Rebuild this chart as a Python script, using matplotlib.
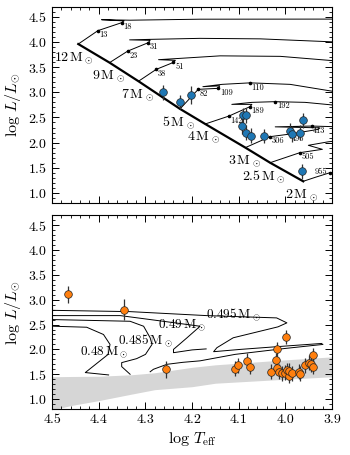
import numpy as np
import matplotlib
matplotlib.use("Agg")
import matplotlib.pyplot as plt

plt.rcParams["font.family"] = "serif"
plt.rcParams["font.serif"] = ["cmr10"]
plt.rcParams["mathtext.fontset"] = "cm"
plt.rcParams["axes.formatter.use_mathtext"] = True

# ---- top panel: main sequence tracks -------------------------------------
zams_mass = ["12", "9", "7", "5", "4", "3", "2.5", "2"]
zams_teff = [4.444, 4.377, 4.315, 4.226, 4.172, 4.086, 4.033, 3.962]
zams_lum = [3.96, 3.59, 3.22, 2.67, 2.37, 1.90, 1.60, 1.23]

track_teff = [
    [4.444, 4.402, 4.351, 4.346, 4.394, 4.333, 4.183, 3.898],
    [4.377, 4.338, 4.294, 4.290, 4.334, 4.290, 4.183, 4.054, 3.898],
    [4.315, 4.277, 4.240, 4.236, 4.272, 4.226, 4.140, 4.011, 3.898],
    [4.226, 4.187, 4.144, 4.141, 4.177, 4.136, 4.076, 3.990, 3.898],
    [4.172, 4.121, 4.076, 4.072, 4.115, 4.072, 4.022, 3.958, 3.898],
    [4.086, 4.033, 3.990, 3.930, 3.926, 4.022, 3.944, 3.898],
    [4.033, 3.969, 3.921, 3.951, 3.908, 3.898],
    [3.962, 3.936, 3.904, 3.898],
]
track_lum = [
    [3.96, 4.226, 4.385, 4.420, 4.444, 4.434, 4.454, 4.456],
    [3.59, 3.820, 3.987, 4.033, 4.043, 4.053, 4.073, 4.063, 4.003],
    [3.22, 3.456, 3.595, 3.635, 3.649, 3.675, 3.725, 3.715, 3.629],
    [2.67, 3.059, 3.079, 3.128, 3.112, 3.158, 3.188, 3.158, 3.019],
    [2.37, 2.528, 2.715, 2.760, 2.760, 2.800, 2.814, 2.800, 2.747],
    [1.90, 2.118, 2.170, 2.263, 2.293, 2.313, 2.329, 2.317],
    [1.60, 1.800, 1.866, 1.946, 2.016, 2.026],
    [1.23, 1.310, 1.403, 1.409],
]

age_label = ["13", "18", "23", "31", "38", "51", "82", "109", "110", "142",
             "189", "192", "306", "496", "413", "505", "955"]
age_teff = [4.402, 4.351, 4.338, 4.294, 4.277, 4.240, 4.187, 4.144, 4.076,
            4.121, 4.076, 4.022, 4.033, 3.990, 3.944, 3.969, 3.904]
age_lum = [4.226, 4.385, 3.820, 3.987, 3.456, 3.595, 3.059, 3.079, 3.188,
           2.528, 2.715, 2.814, 2.118, 2.170, 2.329, 1.800, 1.403]

ms_teff = [4.263, 4.226, 4.202, 4.091, 4.084, 4.094, 4.084, 4.074, 4.045,
           3.991, 3.987, 3.969, 3.962, 3.965]
ms_lum = [3.00, 2.81, 2.95, 2.54, 2.54, 2.33, 2.20, 2.14, 2.14,
          2.24, 2.17, 2.20, 2.44, 1.43]
ms_err = [0.15, 0.14, 0.18, 0.15, 0.15, 0.15, 0.15, 0.15, 0.14,
          0.15, 0.15, 0.15, 0.15, 0.15]

# ---- bottom panel: horizontal branch tracks ------------------------------
hb_mass = ["0.495", "0.49", "0.485", "0.48"]
hb_teff = [
    [4.498, 4.333, 4.169, 4.019, 3.997, 4.016, 4.112, 4.147, 4.154, 4.097, 4.011, 3.922],
    [4.497, 4.354, 4.262, 4.183, 4.211, 4.240, 4.240, 4.20, 4.17],
    [4.498, 4.333, 4.304, 4.290, 4.286, 4.300, 4.319, 4.351, 4.351, 4.333],
    [4.497, 4.426, 4.390, 4.376, 4.380, 4.429, 4.379],
]
hb_lum = [
    [2.786, 2.760, 2.680, 2.634, 2.534, 2.454, 2.234, 2.034, 1.954, 2.00, 2.06, 2.12],
    [2.680, 2.680, 2.566, 2.466, 2.234, 2.000, 1.934, 1.99, 2.01],
    [2.600, 2.566, 2.466, 2.234, 2.100, 1.900, 1.814, 1.734, 1.654, 1.500],
    [2.466, 2.446, 2.300, 2.100, 1.900, 1.534, 1.486],
]
extra_teff = [4.290, 4.283, 4.254, 4.220, 4.183, 4.108, 4.000, 3.920]
extra_lum = [1.55, 1.60, 1.70, 1.74, 1.77, 1.90, 2.02, 2.10]
hb_label_teff = [4.112, 4.222, 4.300, 4.388]
hb_label_lum = [2.70, 2.48, 2.17, 1.94]

band_teff = [4.5, 4.46, 4.40, 4.33, 4.28, 4.20, 4.15, 4.00, 3.90]
band_low = [0.78, 0.87, 0.97, 1.10, 1.19, 1.25, 1.32, 1.40, 1.45]
band_high = [1.45, 1.455, 1.46, 1.49, 1.53, 1.64, 1.69, 1.79, 1.85]

hb_teff_obs = [4.467, 4.347, 4.256, 4.108, 4.102, 4.083, 4.077, 4.031, 4.020,
               4.019, 4.019, 4.014, 3.999, 4.007, 4.001, 3.997, 3.993, 3.992,
               3.986, 3.970, 3.969, 3.959, 3.950, 3.945, 3.941, 3.940]
hb_lum_obs = [3.11, 2.80, 1.60, 1.61, 1.68, 1.77, 1.65, 1.55, 1.78,
              2.00, 1.63, 1.55, 2.25, 1.52, 1.53, 1.58, 1.47, 1.57,
              1.52, 1.55, 1.51, 1.68, 1.73, 1.70, 1.88, 1.65]
hb_err_obs = [0.17, 0.21, 0.17, 0.15, 0.15, 0.15, 0.15, 0.15, 0.15,
              0.15, 0.15, 0.15, 0.15, 0.15, 0.15, 0.15, 0.15, 0.15,
              0.15, 0.15, 0.15, 0.15, 0.15, 0.15, 0.15, 0.15]

fig = plt.figure(figsize=(3.5, 4.55), dpi=100)
ax1 = fig.add_axes([0.149, 0.554, 0.800, 0.431])
ax2 = fig.add_axes([0.149, 0.101, 0.800, 0.426])

# top panel
for tx, ty in zip(track_teff, track_lum):
    ax1.plot(tx, ty, color="k", lw=0.7, zorder=2)
ax1.plot(zams_teff, zams_lum, color="k", lw=1.6, zorder=3)
ax1.plot(age_teff, age_lum, "o", color="k", ms=1.6, zorder=3)
for lab, tx, ty in zip(age_label, age_teff, age_lum):
    if lab == "955":
        ax1.annotate(lab, (tx, ty), xytext=(-2, 0.5), textcoords="offset points",
                     ha="right", va="center", fontsize=6)
    else:
        ax1.annotate(lab, (tx, ty), xytext=(1.2, -0.3), textcoords="offset points",
                     ha="left", va="top", fontsize=6)
for m, tx, ty in zip(zams_mass, zams_teff, zams_lum):
    ax1.annotate(m + r"$\,$M$_\odot$", (tx, ty), xytext=(11, -4),
                 textcoords="offset points", ha="right", va="top", fontsize=10)
ax1.errorbar(ms_teff, ms_lum, yerr=ms_err, fmt="o", color="#1f77b4",
             ecolor="#333333", elinewidth=0.9, capsize=0, ms=5.5,
             mec="#222222", mew=0.5, zorder=5)

# bottom panel
ax2.fill_between(band_teff, band_low, band_high, color="#d6d6d6", lw=0, zorder=1)
for tx, ty in zip(hb_teff, hb_lum):
    ax2.plot(tx, ty, color="k", lw=0.7, zorder=2)
ax2.plot(extra_teff, extra_lum, color="k", lw=0.7, zorder=2)
for m, tx, ty in zip(hb_mass, hb_label_teff, hb_label_lum):
    ax2.text(tx, ty, m + r"$\,$M$_\odot$", ha="center", va="center",
             fontsize=9.5, zorder=3)
ax2.errorbar(hb_teff_obs, hb_lum_obs, yerr=hb_err_obs, fmt="o", color="#ff7f0e",
             ecolor="#333333", elinewidth=0.9, capsize=0, ms=5.5,
             mec="#222222", mew=0.5, zorder=5)

for ax in (ax1, ax2):
    ax.set_xlim(4.5, 3.9)
    ax.set_ylim(0.8, 4.7)
    ax.set_xticks(np.arange(3.9, 4.51, 0.1))
    ax.set_xticks(np.arange(3.9, 4.51, 0.02), minor=True)
    ax.set_yticks([1.0, 1.5, 2.0, 2.5, 3.0, 3.5, 4.0, 4.5])
    ax.set_yticks(np.arange(0.8, 4.71, 0.1), minor=True)
    ax.tick_params(which="both", direction="in", top=True, right=True, labelsize=10)
    ax.tick_params(which="major", length=5, width=0.7)
    ax.tick_params(which="minor", length=2.5, width=0.6)
    ax.set_ylabel(r"$\log\,L/L_{\odot}$", fontsize=11.5, labelpad=4)
    for s in ax.spines.values():
        s.set_linewidth(0.8)

ax1.tick_params(labelbottom=False)
ax2.set_xticklabels(["3.9", "4.0", "4.1", "4.2", "4.3", "4.4", "4.5"])
ax2.set_xlabel(r"$\log\,T_{\rm eff}$", fontsize=11.5, labelpad=3)

fig.savefig("out.png", dpi=100)
